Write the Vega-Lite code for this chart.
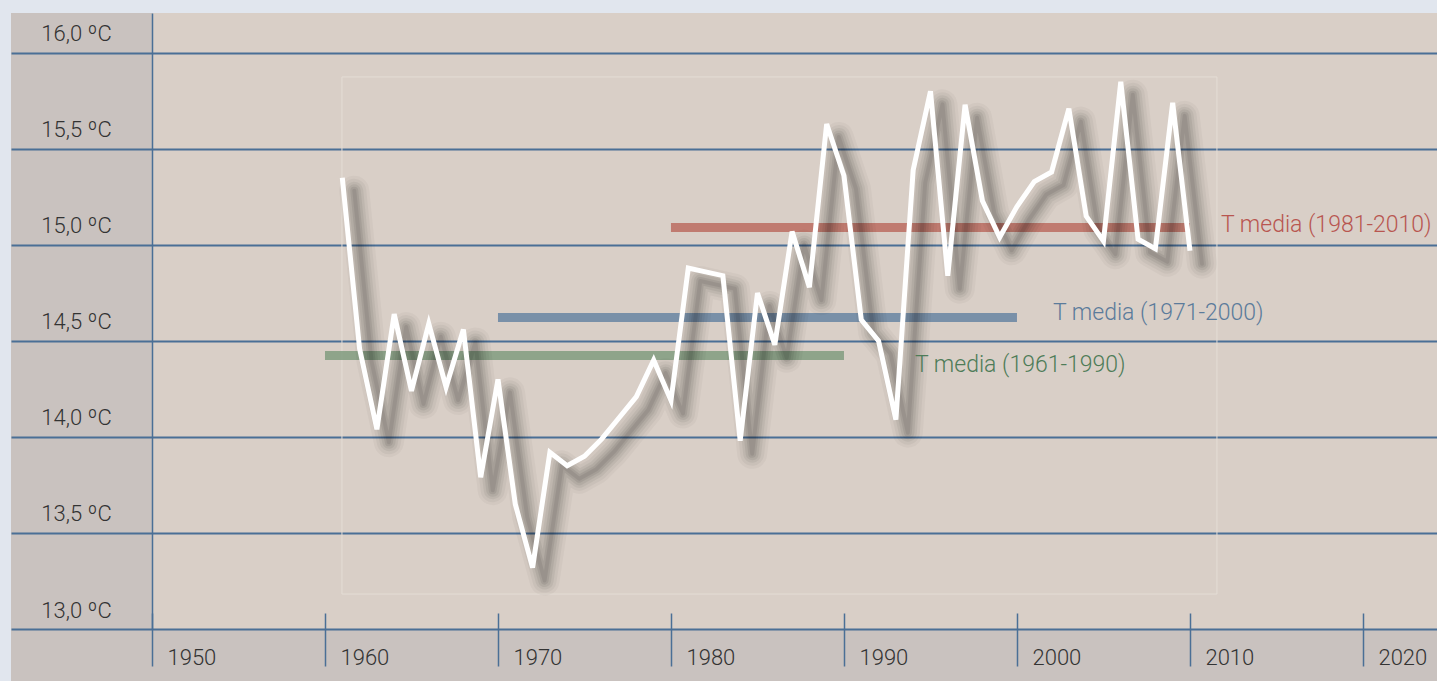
{
  "$schema": "https://vega.github.io/schema/vega-lite/v6.json",
  "width": 1285,
  "height": 616,
  "autosize": {"type": "none"},
  "padding": {"left": 152, "top": 13, "right": 0, "bottom": 52},
  "background": "#c9c2bf",
  "view": {"fill": "#d9cfc7", "stroke": null},
  "config": {"font": "Roboto"},
  "datasets": {
    "temps": [
      {"year": 1961, "t": 15.35}, {"year": 1962, "t": 14.46}, {"year": 1963, "t": 14.04},
      {"year": 1964, "t": 14.64}, {"year": 1965, "t": 14.24}, {"year": 1966, "t": 14.59},
      {"year": 1967, "t": 14.26}, {"year": 1968, "t": 14.56}, {"year": 1969, "t": 13.79},
      {"year": 1970, "t": 14.30}, {"year": 1971, "t": 13.65}, {"year": 1972, "t": 13.32},
      {"year": 1973, "t": 13.92}, {"year": 1974, "t": 13.85}, {"year": 1975, "t": 13.90},
      {"year": 1976, "t": 13.99}, {"year": 1977, "t": 14.10}, {"year": 1978, "t": 14.21},
      {"year": 1979, "t": 14.40}, {"year": 1980, "t": 14.19}, {"year": 1981, "t": 14.88},
      {"year": 1982, "t": 14.86}, {"year": 1983, "t": 14.84}, {"year": 1984, "t": 13.98},
      {"year": 1985, "t": 14.75}, {"year": 1986, "t": 14.48}, {"year": 1987, "t": 15.07},
      {"year": 1988, "t": 14.78}, {"year": 1989, "t": 15.63}, {"year": 1990, "t": 15.36},
      {"year": 1991, "t": 14.61}, {"year": 1992, "t": 14.50}, {"year": 1993, "t": 14.09},
      {"year": 1994, "t": 15.39}, {"year": 1995, "t": 15.80}, {"year": 1996, "t": 14.84},
      {"year": 1997, "t": 15.73}, {"year": 1998, "t": 15.23}, {"year": 1999, "t": 15.04},
      {"year": 2000, "t": 15.20}, {"year": 2001, "t": 15.33}, {"year": 2002, "t": 15.38},
      {"year": 2003, "t": 15.71}, {"year": 2004, "t": 15.15}, {"year": 2005, "t": 15.02},
      {"year": 2006, "t": 15.85}, {"year": 2007, "t": 15.03}, {"year": 2008, "t": 14.98},
      {"year": 2009, "t": 15.74}, {"year": 2010, "t": 14.97}
    ],
    "means": [
      {"period": "1961-1990", "start": 1960, "end": 1990, "mean": 14.424, "label": "T media (1961-1990)"},
      {"period": "1971-2000", "start": 1970, "end": 2000, "mean": 14.622, "label": "T media (1971-2000)"},
      {"period": "1981-2010", "start": 1980, "end": 2010, "mean": 15.091, "label": "T media (1981-2010)"}
    ]
  },
  "layer": [
    {
      "data": {"values": [{}]},
      "mark": {"type": "rect", "color": "#e1e6ee", "clip": false},
      "encoding": {
        "x": {"datum": 1941.21, "type": "quantitative", "title": null,
          "scale": {"domain": [1950, 2024.28], "nice": false, "zero": false},
          "axis": {
            "values": [1950, 1960, 1970, 1980, 1990, 2000, 2010, 2020],
            "format": "d", "offset": -16, "tickSize": 53, "tickColor": "#4a6f96", "tickWidth": 1.5,
            "domain": false, "grid": false, "labelAlign": "left", "labelOffset": 15,
            "labelPadding": -2, "labelBaseline": "alphabetic",
            "labelFont": "Roboto", "labelFontWeight": 300,
            "labelFontSize": 22, "labelColor": "#333333", "labelFlush": false,
            "labelOverlap": false, "labelBound": false, "title": null
          }},
        "x2": {"datum": 2024.28},
        "y": {"datum": 16.208, "type": "quantitative", "title": null,
          "scale": {"domain": [13, 16.208], "nice": false, "zero": false},
          "axis": {
            "values": [13, 13.5, 14, 14.5, 15, 15.5, 16],
            "labelExpr": "replace(format(datum.value, '.1f'), '.', ',') + ' ºC'",
            "tickSize": 141, "tickColor": "#4a6f96", "tickWidth": 2,
            "grid": true, "gridColor": "#4a6f96", "gridWidth": 2, "gridOpacity": 1,
            "domain": true, "domainColor": "#4a6f96", "domainWidth": 1.5,
            "labelAlign": "center", "labelPadding": -65, "labelOffset": -12,
            "labelBaseline": "alphabetic",
            "labelFont": "Roboto", "labelFontWeight": 300,
            "labelFontSize": 22, "labelColor": "#333333", "labelFlush": false,
            "labelOverlap": false, "labelBound": false, "title": null
          }},
        "y2": {"datum": 16.276}
      }
    },
    {
      "data": {"values": [{}]},
      "mark": {"type": "rect", "color": "#e1e6ee", "clip": false},
      "encoding": {
        "x": {"datum": 1941.21, "type": "quantitative", "title": null},
        "x2": {"datum": 1941.85},
        "y": {"datum": 12.729, "type": "quantitative", "title": null},
        "y2": {"datum": 16.276}
      }
    },
    {
      "data": {"values": [{}]},
      "mark": {"type": "rect", "fill": null, "stroke": "#e4ddd6", "strokeWidth": 1},
      "encoding": {
        "x": {"datum": 1960.98, "type": "quantitative", "title": null},
        "x2": {"datum": 2011.56},
        "y": {"datum": 13.182, "type": "quantitative", "title": null},
        "y2": {"datum": 15.875}
      }
    },
    {
      "data": {"name": "means"},
      "mark": {"type": "rule", "strokeWidth": 9, "opacity": 0.8, "strokeCap": "butt"},
      "encoding": {
        "x": {"field": "start", "type": "quantitative", "title": null},
        "x2": {"field": "end"},
        "y": {"field": "mean", "type": "quantitative", "title": null},
        "color": {"field": "period", "type": "nominal", "legend": null,
          "scale": {"domain": ["1961-1990", "1971-2000", "1981-2010"], "range": ["#7b987b", "#6080a0", "#b9655a"]}}
      }
    },
    {
      "data": {"name": "temps"},
      "mark": {"type": "line", "color": "#000000", "strokeWidth": 30, "opacity": 0.03, "xOffset": 12, "yOffset": 13, "strokeJoin": "round", "strokeCap": "round"},
      "encoding": {
        "x": {"field": "year", "type": "quantitative", "title": null},
        "y": {"field": "t", "type": "quantitative", "title": null}
      }
    },
    {
      "data": {"name": "temps"},
      "mark": {"type": "line", "color": "#000000", "strokeWidth": 24, "opacity": 0.04, "xOffset": 12, "yOffset": 13, "strokeJoin": "round", "strokeCap": "round"},
      "encoding": {
        "x": {"field": "year", "type": "quantitative", "title": null},
        "y": {"field": "t", "type": "quantitative", "title": null}
      }
    },
    {
      "data": {"name": "temps"},
      "mark": {"type": "line", "color": "#000000", "strokeWidth": 18, "opacity": 0.05, "xOffset": 12, "yOffset": 13, "strokeJoin": "round", "strokeCap": "round"},
      "encoding": {
        "x": {"field": "year", "type": "quantitative", "title": null},
        "y": {"field": "t", "type": "quantitative", "title": null}
      }
    },
    {
      "data": {"name": "temps"},
      "mark": {"type": "line", "color": "#000000", "strokeWidth": 13, "opacity": 0.06, "xOffset": 12, "yOffset": 13, "strokeJoin": "round", "strokeCap": "round"},
      "encoding": {
        "x": {"field": "year", "type": "quantitative", "title": null},
        "y": {"field": "t", "type": "quantitative", "title": null}
      }
    },
    {
      "data": {"name": "temps"},
      "mark": {"type": "line", "color": "#000000", "strokeWidth": 8, "opacity": 0.07, "xOffset": 12, "yOffset": 13, "strokeJoin": "round", "strokeCap": "round"},
      "encoding": {
        "x": {"field": "year", "type": "quantitative", "title": null},
        "y": {"field": "t", "type": "quantitative", "title": null}
      }
    },
    {
      "data": {"name": "temps"},
      "mark": {"type": "line", "color": "#000000", "strokeWidth": 4, "opacity": 0.07, "xOffset": 12, "yOffset": 13, "strokeJoin": "round", "strokeCap": "round"},
      "encoding": {
        "x": {"field": "year", "type": "quantitative", "title": null},
        "y": {"field": "t", "type": "quantitative", "title": null}
      }
    },
    {
      "data": {"name": "temps"},
      "mark": {"type": "line", "color": "#ffffff", "strokeWidth": 5, "strokeJoin": "miter"},
      "encoding": {
        "x": {"field": "year", "type": "quantitative", "title": null},
        "y": {"field": "t", "type": "quantitative", "title": null}
      }
    },
    {
      "data": {"name": "means"},
      "transform": [{"filter": "datum.period == '1981-2010'"}],
      "mark": {"type": "text", "align": "left", "baseline": "alphabetic", "dx": 31, "dy": 5, "fontSize": 23, "fontWeight": 300, "font": "Roboto", "color": "#b85650"},
      "encoding": {
        "x": {"field": "end", "type": "quantitative", "title": null},
        "y": {"field": "mean", "type": "quantitative", "title": null},
        "text": {"field": "label"}
      }
    },
    {
      "data": {"name": "means"},
      "transform": [{"filter": "datum.period == '1971-2000'"}],
      "mark": {"type": "text", "align": "left", "baseline": "alphabetic", "dx": 36, "dy": 2, "fontSize": 23, "fontWeight": 300, "font": "Roboto", "color": "#5b7b9b"},
      "encoding": {
        "x": {"field": "end", "type": "quantitative", "title": null},
        "y": {"field": "mean", "type": "quantitative", "title": null},
        "text": {"field": "label"}
      }
    },
    {
      "data": {"name": "means"},
      "transform": [{"filter": "datum.period == '1961-1990'"}],
      "mark": {"type": "text", "align": "left", "baseline": "alphabetic", "dx": 71, "dy": 16, "fontSize": 23, "fontWeight": 300, "font": "Roboto", "color": "#4e7c58"},
      "encoding": {
        "x": {"field": "end", "type": "quantitative", "title": null},
        "y": {"field": "mean", "type": "quantitative", "title": null},
        "text": {"field": "label"}
      }
    }
  ]
}
